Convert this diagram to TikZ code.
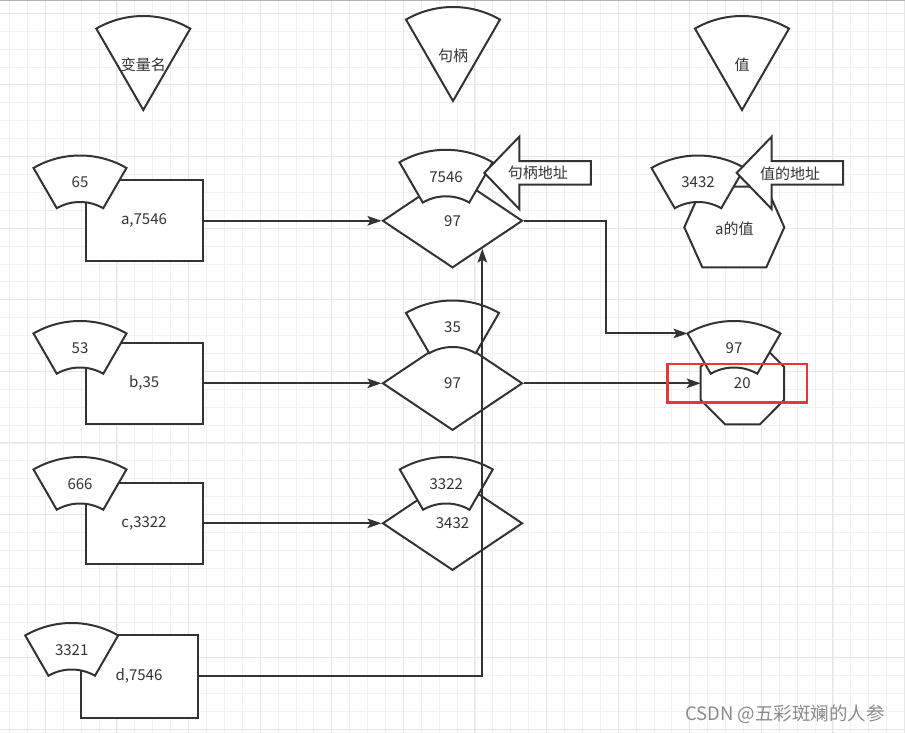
\documentclass[tikz,border=0pt]{standalone}
\usepackage{fontspec}
\setmainfont{Noto Sans CJK SC}
\usetikzlibrary{shapes.geometric,arrows.meta,calc}
\definecolor{linec}{HTML}{333333}
\definecolor{gridmin}{HTML}{F1F1F1}
\definecolor{gridmaj}{HTML}{E6E6E6}
\definecolor{markred}{HTML}{E5383B}
\definecolor{wmark}{HTML}{8A8A8A}
\tikzset{
  txt/.style={text=linec,font=\fontsize{15}{18}\selectfont},
  shp/.style={draw=linec,line width=2pt,fill=white},
  lbl/.style={txt,inner sep=1pt},
  box/.style={shp,txt,minimum width=117pt,minimum height=81pt,inner sep=0pt},
  dia/.style={shp,txt,diamond,minimum width=140pt,minimum height=94pt,inner sep=0pt},
  conn/.style={draw=linec,line width=2pt,-{Stealth[length=14pt,width=9.5pt,inset=3pt]}},
}
\newcommand\fanring[4]{%
  \draw[shp] (#2,#3+93) ++(-120:93) arc[start angle=-120,end angle=-60,radius=93] -- ++(120:46.5) arc[start angle=-60,end angle=-120,radius=46.5] -- cycle;
  \coordinate (#1-w) at ([shift={(-120:93)}]#2,#3+93);
  \node[lbl] (#1) at (#2,#3+27) {#4};}
\newcommand\wedgetop[4]{%
  \draw[shp] (#2,#3) -- ++(-120:94) arc[start angle=-120,end angle=-60,radius=94] -- cycle;
  \node[lbl] (#1) at (#2,#3-45) {#4};}
\newcommand\blockarrow[3]{%
  \draw[shp] (#2,172.9) -- ++(35,-36.2) -- ++(0,24.4) -- ++(71.5,0) -- ++(0,23.6) -- ++(-71.5,0) -- ++(0,24.4) -- cycle;
  \node[lbl] (#1) at (#2+53.5,173.3) {#3};}
\begin{document}
\begin{tikzpicture}[x=1pt,y=-1pt]
\useasboundingbox (0,0) rectangle (905,733);
\foreach \i in {0,...,50} \draw[gridmin,line width=.8pt] ({9.5+17.9*\i},0)--++(0,733);
\foreach \j in {0,...,40} \draw[gridmin,line width=.8pt] (0,{13.3+17.9*\j})--++(905,0);
\foreach \i in {0,...,12} \draw[gridmaj,line width=1pt] ({45.3+71.6*\i},0)--++(0,733);
\foreach \j in {0,...,10} \draw[gridmaj,line width=1pt] (0,{13.3+71.6*\j})--++(905,0);
\draw[gray!60,line width=1pt] (0,.5)--(905,.5);
\wedgetop{wname}{143.3}{110}{变量名}
\wedgetop{whandle}{453}{101}{句柄}
\wedgetop{wvalue}{742}{110}{值}
\node[box] (ra) at (144,220.8) {a,7546};
\node[box] (rb) at (144.2,383.3) {b,35};
\node[box] (rc) at (144,523.3) {c,3322};
\node[box,minimum height=82.5pt] (rd) at (139,676.4) {d,7546};
\fanring{fa}{80}{155.5}{65}
\fanring{fb}{80}{321}{53}
\fanring{fc}{80}{457}{666}
\fanring{fd}{71.7}{623}{3321}
\node[dia] (d1) at (452.5,220.8) {97};
\node[dia] (d2) at (452.5,383.3) {97};
\node[dia] (d3) at (452.5,523.3) {3432};
\fanring{h1}{446}{149.8}{7546}
\fanring{h2}{452.5}{300.5}{35}
\fanring{h3}{446.3}{457}{3322}
\blockarrow{ahandle}{484.3}{句柄地址}
\draw[shp] (702.3,186.7)--(766.3,186.7)--(784.3,227.3)--(766.3,267.3)--(702.3,267.3)--(684.3,227.3)--cycle;
\node[lbl] (hexa) at (734.3,228.5) {a的值};
\fanring{v1}{698}{155.5}{3432}
\blockarrow{avalue}{736.7}{值的地址}
\draw[shp] (725,342.7)--(760,342.7)--(784,366.7)--(784,400)--(760,424.3)--(725,424.3)--(700.7,400)--(700.7,366.7)--cycle;
\coordinate (oct-w) at (700.7,383.3);
\node[lbl] (oct) at (742.3,383.5) {20};
\fanring{v2}{734}{321}{97}
\draw[conn] (ra.east)--(d1.west);
\draw[conn] (rb.east)--(d2.west);
\draw[conn] (rc.east)--(d3.west);
\draw[conn] (rd.east)-|($(d1.south)!.42!(d1.east)$);
\draw[conn] (d1.east)--++(82,0)|-(v2-w);
\draw[conn] (d2.east)--(oct-w);
\draw[markred,line width=2.4pt] (667.3,364)rectangle(806.7,402.3);
\node[text=wmark,font=\fontsize{18.5}{21}\selectfont,inner sep=0pt] (mark) at (785,714) {CSDN @五彩斑斓的人参};
\end{tikzpicture}
\end{document}
